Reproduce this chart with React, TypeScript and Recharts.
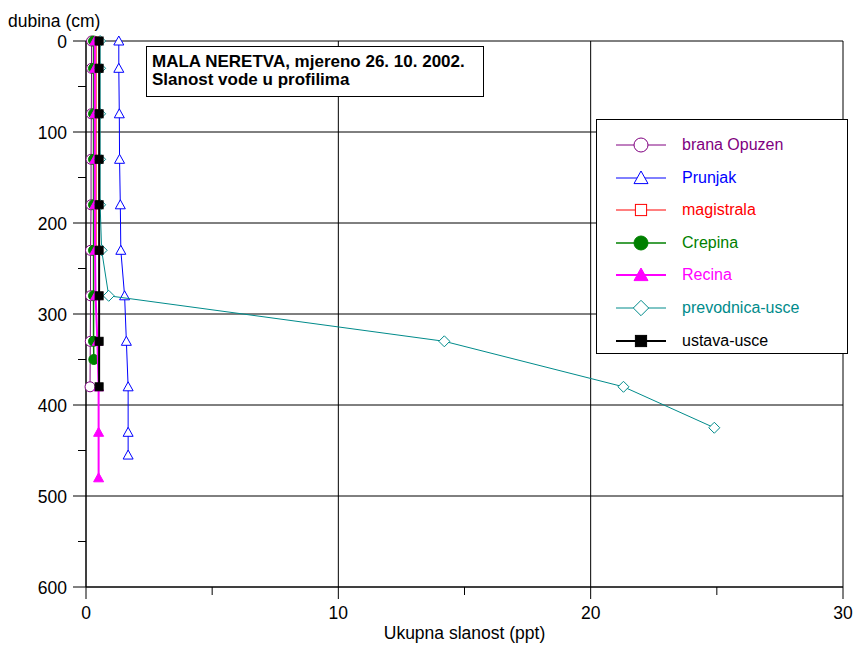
import React from 'react'
import { ScatterChart, Scatter, XAxis, YAxis, CartesianGrid, Label } from 'recharts'

// depth (cm) and total salinity (ppt) per station
const depths = [0, 30, 80, 130, 180, 230, 280, 330, 380]
const branaOpuzen = [0.22, 0.22, 0.21, 0.2, 0.2, 0.18, 0.18, 0.17, 0.16]
const prunjakDepths = [0, 30, 80, 130, 180, 230, 280, 330, 380, 430, 455]
const prunjak = [1.3, 1.3, 1.32, 1.33, 1.36, 1.38, 1.53, 1.6, 1.67, 1.67, 1.67]
const magistralaDepths = [0, 30, 80, 130, 180, 230]
const magistrala = [0.4, 0.4, 0.4, 0.4, 0.4, 0.4]
const crepinaDepths = [0, 30, 80, 130, 180, 230, 280, 330, 350]
const crepina = [0.3, 0.3, 0.3, 0.3, 0.3, 0.3, 0.3, 0.3, 0.31]
const recinaDepths = [0, 30, 80, 130, 180, 230, 280, 330, 380, 430, 480]
const recina = [0.35, 0.35, 0.35, 0.35, 0.35, 0.36, 0.38, 0.45, 0.5, 0.5, 0.5]
const prevodnicaDepths = [0, 30, 80, 130, 180, 230, 280, 330, 380, 425]
const prevodnica = [0.56, 0.56, 0.56, 0.56, 0.56, 0.62, 0.9, 14.2, 21.3, 24.9]
const ustava = [0.52, 0.52, 0.52, 0.52, 0.52, 0.52, 0.52, 0.52, 0.52]

const xTicks = [0, 5, 10, 15, 20, 25, 30]
const yTicks = [0, 50, 100, 150, 200, 250, 300, 350, 400, 450, 500, 550, 600]

const toPoints = (xs: number[], ys: number[]) => xs.map((x, i) => ({ x, y: ys[i] }))

type Kind = 'circleOpen' | 'triangleOpen' | 'squareOpen' | 'circle' | 'triangle' | 'diamondOpen' | 'square'

const series = [
  { name: 'brana Opuzen', color: '#800080', kind: 'circleOpen' as Kind, width: 1, data: toPoints(branaOpuzen, depths) },
  { name: 'Prunjak', color: '#0000ff', kind: 'triangleOpen' as Kind, width: 1, data: toPoints(prunjak, prunjakDepths) },
  { name: 'magistrala', color: '#ff0000', kind: 'squareOpen' as Kind, width: 1, data: toPoints(magistrala, magistralaDepths) },
  { name: 'Crepina', color: '#008000', kind: 'circle' as Kind, width: 1.5, data: toPoints(crepina, crepinaDepths) },
  { name: 'Recina', color: '#ff00ff', kind: 'triangle' as Kind, width: 2, data: toPoints(recina, recinaDepths) },
  { name: 'prevodnica-usce', color: '#008b8b', kind: 'diamondOpen' as Kind, width: 1, data: toPoints(prevodnica, prevodnicaDepths) },
  { name: 'ustava-usce', color: '#000000', kind: 'square' as Kind, width: 2, data: toPoints(ustava, depths) },
]

function Marker({ kind, cx, cy, color, s = 1 }: { kind: Kind; cx: number; cy: number; color: string; s?: number }) {
  const open = { fill: '#fff', stroke: color, strokeWidth: 1 }
  const solid = { fill: color, stroke: color, strokeWidth: 1 }
  switch (kind) {
    case 'circleOpen':
      return <circle cx={cx} cy={cy} r={5 * s} {...open} />
    case 'circle':
      return <circle cx={cx} cy={cy} r={5 * s} {...solid} />
    case 'triangleOpen':
    case 'triangle': {
      const h = 5 * s
      const pts = `${cx},${cy - h} ${cx + h},${cy + h * 0.8} ${cx - h},${cy + h * 0.8}`
      return <polygon points={pts} {...(kind === 'triangle' ? solid : open)} />
    }
    case 'squareOpen':
    case 'square': {
      const h = 4 * s
      return <rect x={cx - h} y={cy - h} width={2 * h} height={2 * h} {...(kind === 'square' ? solid : open)} />
    }
    case 'diamondOpen': {
      const h = 5.5 * s
      const pts = `${cx},${cy - h} ${cx + h},${cy} ${cx},${cy + h} ${cx - h},${cy}`
      return <polygon points={pts} {...open} />
    }
  }
  return null
}

const YTick = (props: any) => {
  const { x, y, payload } = props
  const major = payload.value % 100 === 0
  return (
    <g>
      <line x1={x - (major ? 13 : 8)} x2={x} y1={y} y2={y} stroke="#000" />
      {major && (
        <text x={x - 19} y={y} dy={6.5} textAnchor="end" fontSize={17.5} fill="#000">
          {payload.value}
        </text>
      )}
    </g>
  )
}

const XTick = (props: any) => {
  const { x, y, payload } = props
  const major = payload.value % 10 === 0
  return (
    <g>
      <line x1={x} x2={x} y1={y} y2={y + (major ? 12 : 8)} stroke="#000" />
      {major && (
        <text x={x} y={y + 32} textAnchor="middle" fontSize={17.5} fill="#000">
          {payload.value}
        </text>
      )}
    </g>
  )
}

export default function App() {
  return (
    <div
      style={{
        position: 'absolute',
        left: 0,
        top: 0,
        width: 853,
        height: 645,
        background: '#fff',
        fontFamily: '"Liberation Sans", Arial, sans-serif',
      }}
    >
      <ScatterChart width={853} height={645} margin={{ top: 41, right: 10, bottom: 28, left: 0 }}>
        <CartesianGrid
          stroke="#000"
          horizontalValues={[0, 100, 200, 300, 400, 500, 600]}
          verticalValues={[0, 10, 20, 30]}
        />
        <XAxis
          type="number"
          dataKey="x"
          domain={[0, 30]}
          ticks={xTicks}
          interval={0}
          tickSize={0}
          tickMargin={0}
          height={30}
          axisLine={{ stroke: '#000' }}
          tick={<XTick />}
        >
          <Label
            content={({ viewBox }: any) => (
              <text x={viewBox.x + viewBox.width / 2} y={639} textAnchor="middle" fontSize={17.5} fill="#000">
                Ukupna slanost (ppt)
              </text>
            )}
          />
        </XAxis>
        <YAxis
          type="number"
          dataKey="y"
          domain={[0, 600]}
          reversed
          ticks={yTicks}
          interval={0}
          tickSize={0}
          tickMargin={0}
          width={86}
          axisLine={{ stroke: '#000' }}
          tick={<YTick />}
        >
          <Label
            content={() => (
              <text x={8} y={27} fontSize={17.5} fill="#000">
                dubina (cm)
              </text>
            )}
          />
        </YAxis>
        {series.map((s) => (
          <Scatter
            key={s.name}
            name={s.name}
            data={s.data}
            fill={s.color}
            line={{ stroke: s.color, strokeWidth: s.width }}
            shape={(p: any) => <Marker kind={s.kind} cx={p.cx} cy={p.cy} color={s.color} />}
            isAnimationActive={false}
          />
        ))}
      </ScatterChart>

      {/* title box */}
      <div
        style={{
          position: 'absolute',
          left: 146,
          top: 46,
          width: 338,
          height: 51,
          border: '1px solid #000',
          background: '#fff',
          fontWeight: 'bold',
          fontSize: 17,
          lineHeight: '18px',
          padding: '6px 0 0 5px',
          boxSizing: 'border-box',
          color: '#000',
        }}
      >
        <div>MALA NERETVA, mjereno 26. 10. 2002.</div>
        <div>Slanost vode u profilima</div>
      </div>

      {/* legend */}
      <div
        style={{
          position: 'absolute',
          left: 596,
          top: 119,
          width: 252,
          height: 235,
          border: '1px solid #000',
          background: '#fff',
          boxSizing: 'border-box',
        }}
      >
        {series.map((s, i) => (
          <div
            key={s.name}
            style={{ position: 'absolute', left: 19, top: 14 + i * 32.6, height: 22, display: 'flex', alignItems: 'center' }}
          >
            <svg width={52} height={22}>
              <line x1={0} x2={50} y1={11} y2={11} stroke={s.color} strokeWidth={s.width} />
              <Marker kind={s.kind} cx={25} cy={11} color={s.color} s={1.4} />
            </svg>
            <span style={{ marginLeft: 14, fontSize: 16, color: s.color, whiteSpace: 'nowrap' }}>{s.name}</span>
          </div>
        ))}
      </div>
    </div>
  )
}
